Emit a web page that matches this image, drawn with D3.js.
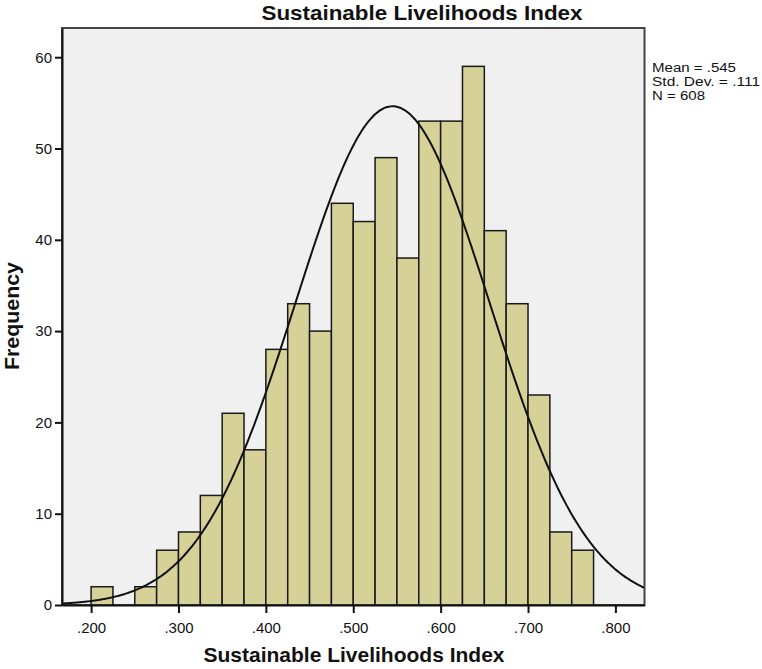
<!DOCTYPE html>
<html>
<head>
<meta charset="utf-8">
<script src="https://cdn.jsdelivr.net/npm/d3@7"></script>
<style>
  body { margin: 0; background: #fff; }
  text { font-family: "Liberation Sans", Arial, sans-serif; fill: #111; }
</style>
</head>
<body>
<div id="chart"></div>
<script>
// Histogram bins (lower edge of each .025 bin) and frequencies
var binStart = [0.200, 0.225, 0.250, 0.275, 0.300, 0.325, 0.350, 0.375, 0.400, 0.425, 0.450,
                0.475, 0.500, 0.525, 0.550, 0.575, 0.600, 0.625, 0.650, 0.675, 0.700, 0.725, 0.750];
var counts   = [2, 0, 2, 6, 8, 12, 21, 17, 28, 33, 30,
                44, 42, 49, 38, 53, 53, 59, 41, 33, 23, 8, 6];
var binWidth = 0.025;

// Summary statistics shown at the right
var stats = {mean: 0.545, sd: 0.111, n: 608};
var statLabels = ["Mean = .545", "Std. Dev. = .111", "N = 608"];
var statWidths = [84, 108, 53];

var xTicks = [0.2, 0.3, 0.4, 0.5, 0.6, 0.7, 0.8];
var yTicks = [0, 10, 20, 30, 40, 50, 60];

var W = 762, H = 669;
var plot = {left: 62, right: 644.5, top: 28, bottom: 605};

var x = d3.scaleLinear().domain([0.1667, 0.8333]).range([plot.left, plot.right]);
var y = d3.scaleLinear().domain([0, 63.2]).range([plot.bottom, plot.top]);

var svg = d3.select("#chart").append("svg")
    .attr("width", W)
    .attr("height", H);

// plot background + frame
svg.append("rect")
    .attr("x", plot.left)
    .attr("y", plot.top)
    .attr("width", plot.right - plot.left)
    .attr("height", plot.bottom - plot.top)
    .attr("fill", "#f0f0f0")
    .attr("stroke", "#444")
    .attr("stroke-width", 2);

// bars
svg.append("g").selectAll("rect")
    .data(counts.map(function(c, i) { return {x0: binStart[i], c: c}; }).filter(function(d) { return d.c > 0; }))
    .enter().append("rect")
    .attr("x", function(d) { return x(d.x0); })
    .attr("y", function(d) { return y(d.c); })
    .attr("width", function(d) { return x(d.x0 + binWidth) - x(d.x0); })
    .attr("height", function(d) { return y(0) - y(d.c); })
    .attr("fill", "#d6d197")
    .attr("stroke", "#1a1a1a")
    .attr("stroke-width", 1.5);

// fitted normal curve from the shown statistics
var scaleK = stats.n * binWidth / (stats.sd * Math.sqrt(2 * Math.PI));
var curvePts = d3.range(x.domain()[0], x.domain()[1] + 0.0005, 0.002).map(function(v) {
    var z = (v - stats.mean) / stats.sd;
    return [v, scaleK * Math.exp(-0.5 * z * z)];
});
svg.append("path")
    .datum(curvePts)
    .attr("fill", "none")
    .attr("stroke", "#111")
    .attr("stroke-width", 2)
    .attr("d", d3.line().x(function(d) { return x(d[0]); }).y(function(d) { return y(d[1]); }).curve(d3.curveBasis));

// axes
var xAxis = svg.append("g")
    .attr("transform", "translate(0," + plot.bottom + ")")
    .call(d3.axisBottom(x).tickValues(xTicks).tickSize(8).tickSizeOuter(0)
        .tickFormat(function(d) { return d3.format(".3f")(d).replace(/^0/, ""); }));
xAxis.select(".domain").attr("stroke", "#111").attr("stroke-width", 2);
xAxis.selectAll(".tick line").attr("stroke", "#111").attr("stroke-width", 2);
xAxis.selectAll(".tick text").attr("dy", "1.1em").style("font-size", "15px").style("font-family", "Liberation Sans, Arial, sans-serif").attr("fill", "#111");

var yAxis = svg.append("g")
    .attr("transform", "translate(" + plot.left + ",0)")
    .call(d3.axisLeft(y).tickValues(yTicks).tickSize(7).tickSizeOuter(0));
yAxis.select(".domain").attr("stroke", "#111").attr("stroke-width", 2);
yAxis.selectAll(".tick line").attr("stroke", "#111").attr("stroke-width", 2);
yAxis.selectAll(".tick text").attr("x", -10).style("font-size", "15px").style("font-family", "Liberation Sans, Arial, sans-serif").attr("fill", "#111");

// title
svg.append("text")
    .attr("x", 422)
    .attr("y", 20)
    .attr("text-anchor", "middle")
    .attr("textLength", 321)
    .attr("lengthAdjust", "spacingAndGlyphs")
    .style("font-size", "21px")
    .style("font-weight", "bold")
    .text("Sustainable Livelihoods Index");

// x label
svg.append("text")
    .attr("x", 354)
    .attr("y", 662)
    .attr("text-anchor", "middle")
    .attr("textLength", 301)
    .attr("lengthAdjust", "spacingAndGlyphs")
    .style("font-size", "21px")
    .style("font-weight", "bold")
    .text("Sustainable Livelihoods Index");

// y label
svg.append("text")
    .attr("transform", "translate(19,316) rotate(-90)")
    .attr("text-anchor", "middle")
    .attr("textLength", 108)
    .attr("lengthAdjust", "spacingAndGlyphs")
    .style("font-size", "21px")
    .style("font-weight", "bold")
    .text("Frequency");

// statistics text
svg.append("g").selectAll("text")
    .data(statLabels)
    .enter().append("text")
    .attr("x", 652)
    .attr("y", function(d, i) { return 72 + i * 14; })
    .attr("textLength", function(d, i) { return statWidths[i]; })
    .attr("lengthAdjust", "spacingAndGlyphs")
    .style("font-size", "12px")
    .text(function(d) { return d; });
</script>
</body>
</html>
